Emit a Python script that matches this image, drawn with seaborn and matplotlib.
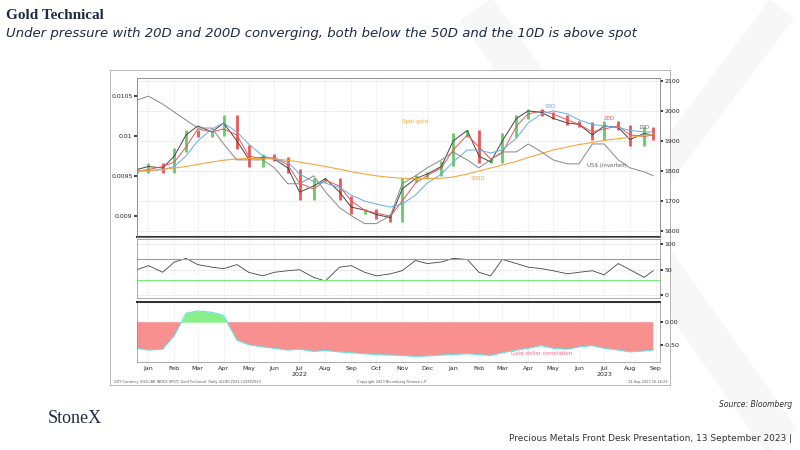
import numpy as np
import pandas as pd
import matplotlib.pyplot as plt
import seaborn as sns

sns.set_theme(style="white")
plt.rcParams['font.family'] = ['DejaVu Sans']

dates = list(pd.date_range("2022-01-01", "2023-09-01", freq="SMS")) + [pd.Timestamp("2023-09-12")]
spot = [1800, 1820, 1800, 1870, 1930, 1920, 1925, 1980, 1880, 1820, 1850, 1840,
        1800, 1710, 1770, 1770, 1710, 1665, 1665, 1650, 1640, 1770, 1780, 1790,
        1825, 1920, 1930, 1835, 1835, 1920, 1980, 2000, 1990, 1980, 1960, 1955,
        1910, 1960, 1945, 1890, 1940, 1910]
ma10 = [1805, 1815, 1810, 1850, 1920, 1950, 1930, 1960, 1900, 1840, 1845, 1840,
        1810, 1730, 1750, 1775, 1730, 1680, 1670, 1655, 1645, 1740, 1775, 1790,
        1815, 1900, 1935, 1850, 1830, 1900, 1975, 2000, 1995, 1975, 1960, 1955,
        1920, 1950, 1945, 1905, 1925, 1920]
ma20 = [1800, 1805, 1815, 1830, 1880, 1940, 1930, 1940, 1920, 1850, 1840, 1845,
        1820, 1760, 1740, 1770, 1750, 1700, 1670, 1660, 1650, 1700, 1760, 1785,
        1810, 1870, 1920, 1880, 1840, 1860, 1950, 1990, 2000, 1990, 1970, 1955,
        1930, 1940, 1950, 1920, 1915, 1920]
ma50 = [1800, 1800, 1805, 1815, 1850, 1900, 1940, 1960, 1930, 1890, 1850, 1840,
        1830, 1790, 1765, 1760, 1745, 1720, 1700, 1690, 1680, 1690, 1720, 1760,
        1790, 1830, 1870, 1870, 1860, 1870, 1910, 1960, 1990, 2000, 1990, 1970,
        1955, 1950, 1945, 1935, 1930, 1930]
ma200 = [1800, 1802, 1805, 1810, 1815, 1822, 1830, 1836, 1840, 1842, 1842, 1840,
         1836, 1830, 1822, 1815, 1806, 1798, 1790, 1784, 1779, 1776, 1775, 1775,
         1776, 1780, 1790, 1800, 1810, 1820, 1832, 1845, 1858, 1870, 1880, 1888,
         1895, 1902, 1908, 1912, 1918, 1922]
usd_inv = [0.01045, 0.0105, 0.0104, 0.0103, 0.0102, 0.0101, 0.0101, 0.0099, 0.0097, 0.0097,
           0.0097, 0.0096, 0.0094, 0.0094, 0.0095, 0.0093, 0.0091, 0.0090, 0.0089, 0.0089,
           0.0090, 0.0094, 0.0095, 0.0096, 0.0097, 0.0098, 0.0097, 0.0096, 0.0097, 0.0098,
           0.0098, 0.0099, 0.0098, 0.0097, 0.00965, 0.00965, 0.0099, 0.0099, 0.0097, 0.0096,
           0.00955, 0.0095]
rsi = [50, 58, 45, 65, 72, 60, 55, 52, 60, 45, 38, 45, 48, 50, 35, 28, 55, 58, 45, 38,
       42, 48, 68, 62, 65, 72, 70, 45, 38, 70, 62, 55, 52, 48, 42, 45, 48, 40, 62, 50, 35, 48]
corr = [-0.58, -0.62, -0.60, -0.30, 0.20, 0.25, 0.22, 0.15, -0.40, -0.50, -0.55, -0.58,
        -0.62, -0.60, -0.65, -0.63, -0.66, -0.68, -0.70, -0.72, -0.73, -0.74, -0.76, -0.75,
        -0.73, -0.72, -0.70, -0.72, -0.74, -0.68, -0.62, -0.58, -0.52, -0.58, -0.60, -0.55,
        -0.52, -0.58, -0.62, -0.66, -0.64, -0.62]

x = pd.to_datetime(dates)

fig = plt.figure(figsize=(8, 4.5), dpi=100)
fig.patch.set_facecolor("white")

# faint watermark X
wm = fig.add_axes([0.55, 0.0, 0.45, 1.0])
wm.axis("off")
wm.plot([0.1, 0.95], [0.98, 0.02], color="#f7f7f7", lw=28, solid_capstyle="butt")
wm.plot([0.95, 0.45], [0.98, 0.45], color="#f7f7f7", lw=22, solid_capstyle="butt")
wm.set_xlim(0, 1); wm.set_ylim(0, 1)

fig.text(0.008, 0.958, "Gold Technical", fontsize=11, fontweight="bold", family="Liberation Serif", color="#1f2a44")
fig.text(0.008, 0.918, "Under pressure with 20D and 200D converging, both below the 50D and the 10D is above spot",
         fontsize=9.5, style="italic", color="#1f2a44")
fig.text(0.06, 0.06, "StoneX", fontsize=13, family="Liberation Serif", color="#1f2a44")
fig.text(0.99, 0.095, "Source: Bloomberg", fontsize=5.5, style="italic", ha="right", color="#333")
fig.text(0.99, 0.02, "Precious Metals Front Desk Presentation, 13 September 2023 |", fontsize=6.5, ha="right", color="#333")

bg = fig.add_axes([0.138, 0.145, 0.70, 0.70])
bg.set_xticks([]); bg.set_yticks([])
for s in bg.spines.values():
    s.set_color("#aaa"); s.set_linewidth(0.6)

left, w = 0.171, 0.654
ax1 = fig.add_axes([left, 0.473, w, 0.354])
ax2 = fig.add_axes([left, 0.338, w, 0.131], sharex=ax1)
ax3 = fig.add_axes([left, 0.196, w, 0.133], sharex=ax1)

# main panel
ax1.set_ylim(1580, 2110)
prev = spot[0]
for d, v in zip(x, spot):
    c = "#66cc66" if v >= prev else "#ee5555"
    ax1.vlines(d, min(v, prev) - 8, max(v, prev) + 8, color=c, lw=2.0)
    prev = v
sns.lineplot(x=x, y=ma10, ax=ax1, color="#444", lw=0.7)
sns.lineplot(x=x, y=ma20, ax=ax1, color="#ee5555", lw=0.7)
sns.lineplot(x=x, y=ma50, ax=ax1, color="#66aaee", lw=0.7)
sns.lineplot(x=x, y=ma200, ax=ax1, color="#f5a640", lw=0.8)
ax1.grid(axis="y", color="#ddd", ls="--", lw=0.5)
ax1.grid(axis="x", color="#eee", lw=0.5)
axl = ax1.twinx()
axl.set_ylim(0.00873, 0.01073)
sns.lineplot(x=x, y=usd_inv, ax=axl, color="#888", lw=0.7)
axl.set_yticks([0.009, 0.0095, 0.01, 0.0105])
axl.set_yticklabels(["0.009", "0.0095", "0.01", "0.0105"])
axl.yaxis.set_ticks_position("left")
axl.yaxis.set_label_position("left")
ax1.yaxis.set_ticks_position("right")
ax1.set_yticks([1600, 1700, 1800, 1900, 2000, 2100])
for t in (ax1, axl):
    t.tick_params(labelsize=4.5, length=2, pad=1)
ax1.text(pd.Timestamp("2023-05-05"), 2010, "50D", color="#66aaee", fontsize=4)
ax1.text(pd.Timestamp("2023-07-15"), 1970, "20D", color="#ee5555", fontsize=4)
ax1.text(pd.Timestamp("2023-08-25"), 1940, "10D", color="#666", fontsize=4)
ax1.text(pd.Timestamp("2022-11-15"), 1960, "Spot gold", color="#f5a640", fontsize=4)
ax1.text(pd.Timestamp("2023-02-05"), 1770, "200D", color="#f5a640", fontsize=4)
ax1.text(pd.Timestamp("2023-06-25"), 1815, "US$ (inverted)", color="#666", fontsize=4)

# RSI panel
ax2.yaxis.tick_right()
sns.lineplot(x=x, y=rsi, ax=ax2, color="#444", lw=0.6)
ax2.axhline(70, color="#ee7777", lw=0.8)
ax2.axhline(30, color="#77ee77", lw=0.8)
ax2.set_ylim(-5, 110)
ax2.set_yticks([0, 50, 100])
ax2.grid(axis="y", color="#ddd", ls="--", lw=0.5)
ax2.grid(axis="x", color="#eee", lw=0.5)
ax2.tick_params(labelsize=4.5, length=2, pad=1)

# correlation panel
ax3.yaxis.tick_right()
cv = np.array(corr)
ax3.fill_between(x, 0, cv, where=cv < 0, color="#f89090", interpolate=True, lw=0)
ax3.fill_between(x, 0, cv, where=cv >= 0, color="#88f088", interpolate=True, lw=0)
sns.lineplot(x=x, y=corr, ax=ax3, color="#66e0e0", lw=0.8)
ax3.set_ylim(-0.88, 0.45)
ax3.set_yticks([-0.5, 0.0])
ax3.set_yticklabels(["-0.50", "0.00"])
ax3.grid(axis="x", color="#eee", lw=0.5)
ax3.text(pd.Timestamp("2023-03-25"), -0.72, "Gold dollar correlation", color="#ff6688", fontsize=4)
ticks = pd.date_range("2022-01-01", "2023-09-01", freq="MS") + pd.Timedelta(days=14)
ax3.set_xticks(ticks)
ax3.set_xticklabels([d.strftime("%b") + ("\n" + str(d.year) if d.month == 7 else "") for d in ticks])
ax3.tick_params(labelsize=4.5, length=2, pad=1)
ax3.set_xlim(pd.Timestamp("2022-01-01"), pd.Timestamp("2023-09-20"))
for a in (ax1, ax2, axl):
    a.tick_params(axis="x", labelbottom=False)
for a in (ax1, ax2, ax3, axl):
    a.set_ylabel(""); a.set_xlabel("")
    for s in a.spines.values():
        s.set_color("#888"); s.set_linewidth(0.5)
ax1.spines["bottom"].set_linewidth(1.5); ax1.spines["bottom"].set_color("#333")
ax3.spines["top"].set_linewidth(1.5); ax3.spines["top"].set_color("#333")

fig.text(0.142, 0.150, "DXY Currency (DOLLAR INDEX SPOT) Gold Technical  Daily 31DEC2021-12SEP2023", fontsize=2.5, color="#555")
fig.text(0.49, 0.150, "Copyright 2023 Bloomberg Finance L.P.", fontsize=2.5, color="#555", ha="center")
fig.text(0.834, 0.150, "12-Sep-2023 16:16:23", fontsize=2.5, color="#555", ha="right")

fig.savefig("out.png", dpi=100)
